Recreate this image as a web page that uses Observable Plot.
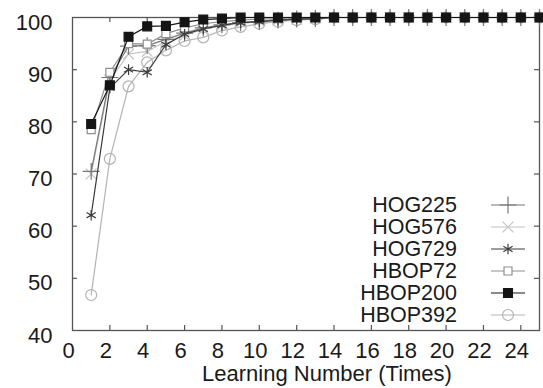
<!DOCTYPE html>
<html>
<head>
<meta charset="utf-8">
<script src="https://cdn.jsdelivr.net/npm/d3@7"></script>
<script src="https://cdn.jsdelivr.net/npm/@observablehq/plot@0.6"></script>
<style>
  html, body { margin: 0; padding: 0; background: #fff; }
  #wrap { position: relative; width: 543px; height: 388px; overflow: hidden; font-family: "Liberation Sans", Arial, sans-serif; color: #1a1a1a; }
  #legend { position: absolute; left: 300px; top: 194px; }
  .row { display: flex; align-items: center; height: 22px; }
  .row span { width: 157px; text-align: right; font-size: 21.5px; line-height: 22px; height: 22px; }
  .row svg { margin-left: 27px; display: block; }
  #xlabel { position: absolute; left: 327px; top: 362px; transform: translateX(-50%); font-size: 22px; line-height: 24px; white-space: nowrap; }
</style>
</head>
<body>
<div id="wrap"><div id="legend"></div><div id="xlabel"></div></div>
<script>
// ---- data ----
const learningNumber = [1,2,3,4,5,6,7,8,9,10,11,12,13,14,15,16,17,18,19,20,21,22,23,24,25];
const seriesNames = ["HOG225","HOG576","HOG729","HBOP72","HBOP200","HBOP392"];
const HOG225  = [70.5,88.5,94.5,94.6,95.8,97.0,98.0,98.6,99.0,99.2,99.5,99.7,99.8,100,100,100,100,100,100,100,100,100,100,100,100];
const HOG576  = [70.0,88.0,93.0,93.5,95.5,96.5,97.8,98.5,99.0,99.3,99.5,99.7,99.9,100,100,100,100,100,100,100,100,100,100,100,100];
const HOG729  = [62.1,86.5,90.0,89.5,94.8,96.8,97.8,98.5,99.0,99.2,99.5,99.7,99.8,100,100,100,100,100,100,100,100,100,100,100,100];
const HBOP72  = [78.5,89.5,95.0,94.9,96.9,98.0,98.8,99.2,99.5,99.7,99.8,100,100,100,100,100,100,100,100,100,100,100,100,100,100];
const HBOP200 = [79.6,87.0,96.3,98.3,98.4,99.1,99.6,99.8,100,100,100,100,100,100,100,100,100,100,100,100,100,100,100,100,100];
const HBOP392 = [46.8,72.9,86.8,91.4,93.7,95.5,96.2,97.5,98.2,98.8,99.2,99.5,99.7,100,100,100,100,100,100,100,100,100,100,100,100];
const seriesValues = [HOG225, HOG576, HOG729, HBOP72, HBOP200, HBOP392];
const xTicks = [0,2,4,6,8,10,12,14,16,18,20,22,24];
const yTicks = [40,50,60,70,80,90,100];
const xLabel = "Learning Number (Times)";

// ---- styles ----
const seriesColor  = ["#777777","#c2c2c2","#3c3c3c","#8f8f8f","#151515","#b3b3b3"];
const seriesSymbol = ["plus","times","asterisk","square","square","circle"];
const seriesFill   = ["none","none","none","white","#151515","none"];
const seriesR      = [5.5,5,5,4.5,5,5.5];
const drawOrder    = [5,1,0,3,2,4];
const d3Sym = {plus: d3.symbolPlus, times: d3.symbolTimes, asterisk: d3.symbolAsterisk, square: d3.symbolSquare, circle: d3.symbolCircle};

const table = seriesNames.map((name, i) => learningNumber.map((x, j) => ({name, x, y: seriesValues[i][j]})));

const frameW = 543 - 72 - 4, frameH = 388 - 17 - 58;
const axisColor = "#555";

const marks = [
  Plot.frame({stroke: axisColor, strokeWidth: 1.3}),
  Plot.tickX(xTicks.slice(1), {x: d => d, insetTop: frameH - 5, stroke: axisColor, strokeWidth: 1.2}),
  Plot.tickX(xTicks.slice(1), {x: d => d, insetBottom: frameH - 5, stroke: axisColor, strokeWidth: 1.2}),
  Plot.tickY(yTicks.slice(1, -1), {y: d => d, insetRight: frameW - 5, stroke: axisColor, strokeWidth: 1.2}),
  Plot.tickY(yTicks.slice(1, -1), {y: d => d, insetLeft: frameW - 5, stroke: axisColor, strokeWidth: 1.2}),
  Plot.axisX(xTicks, {tickSize: 0, tickPadding: 12, dx: -4, fontSize: 22, label: null, tickFormat: d => String(d)}),
  Plot.axisY(yTicks, {tickSize: 0, tickPadding: 20, dy: 5, fontSize: 22, label: null, tickFormat: d => String(d)})
];
for (const i of drawOrder) {
  marks.push(Plot.line(table[i], {x: "x", y: "y", stroke: seriesColor[i], strokeWidth: 1.2}));
  marks.push(Plot.dot(table[i], {x: "x", y: "y", symbol: () => seriesSymbol[i], r: seriesR[i], stroke: seriesColor[i], fill: seriesFill[i], strokeWidth: 1.2}));
}

const chart = Plot.plot({
  width: 543, height: 388,
  marginTop: 17, marginBottom: 58, marginLeft: 72, marginRight: 4,
  x: {domain: [0, 25]},
  y: {domain: [40, 100]},
  style: {fontFamily: '"Liberation Sans", Arial, sans-serif', fontSize: "22px", color: "#1a1a1a", background: "white", overflow: "visible"},
  marks
});
document.getElementById("wrap").prepend(chart);
document.getElementById("xlabel").textContent = xLabel;

// ---- legend ----
const legend = document.getElementById("legend");
seriesNames.forEach((name, i) => {
  const row = document.createElement("div");
  row.className = "row";
  const span = document.createElement("span");
  span.textContent = name;
  row.appendChild(span);
  const svg = d3.create("svg").attr("width", 48).attr("height", 22);
  svg.append("line").attr("x1", 7).attr("x2", 41).attr("y1", 11).attr("y2", 11).attr("stroke", seriesColor[i]).attr("stroke-width", 1.2);
  svg.append("path").attr("transform", "translate(24,11)")
    .attr("d", d3.symbol(d3Sym[seriesSymbol[i]], Math.PI * seriesR[i] * seriesR[i])())
    .attr("stroke", seriesColor[i]).attr("fill", seriesFill[i]).attr("stroke-width", 1.2);
  row.appendChild(svg.node());
  legend.appendChild(row);
});
</script>
</body>
</html>
